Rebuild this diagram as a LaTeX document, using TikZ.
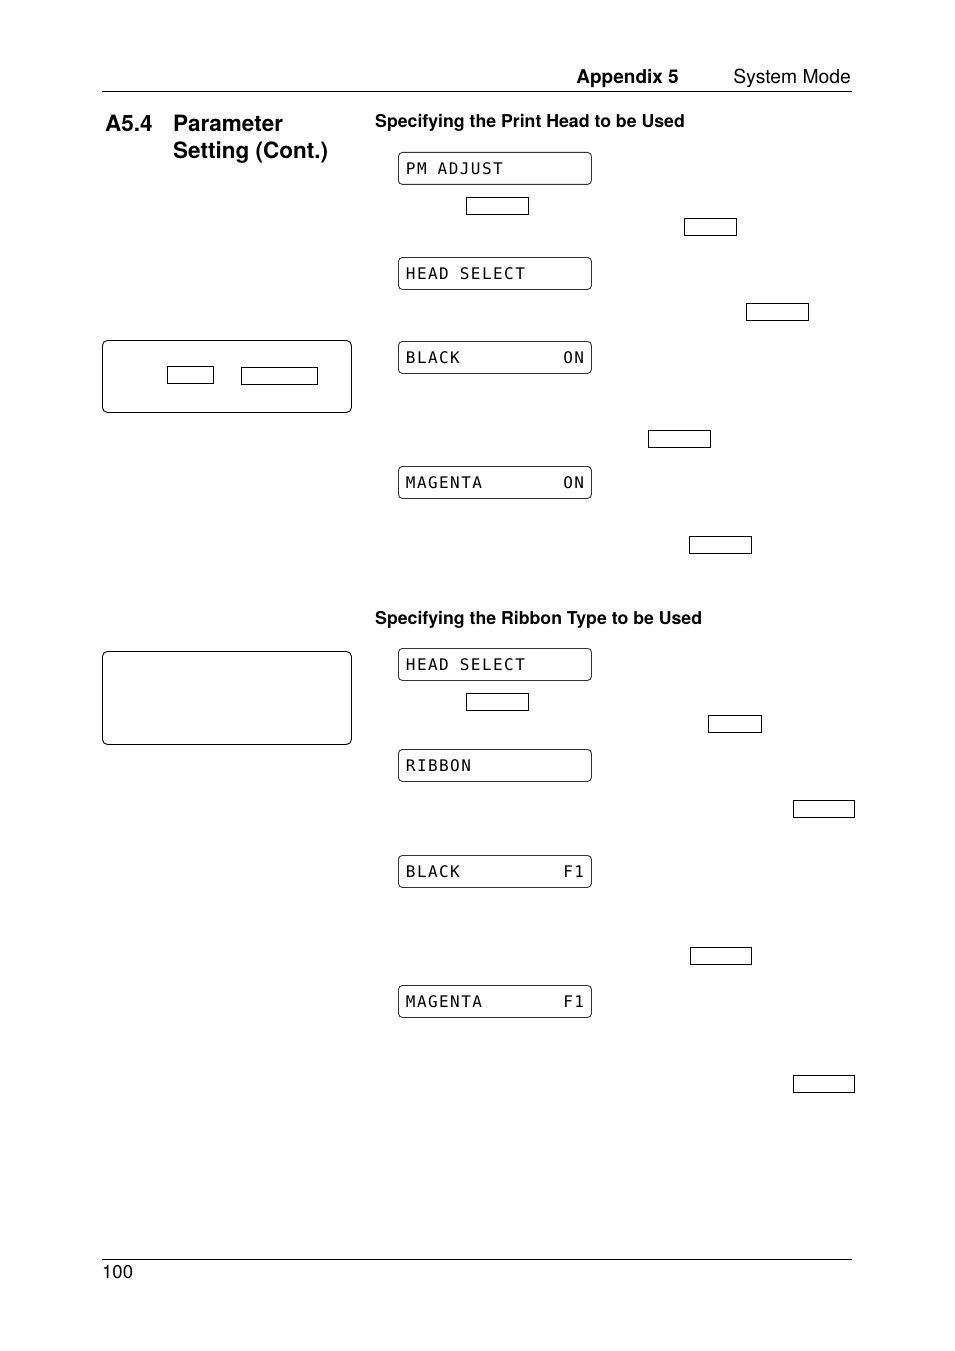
\documentclass[tikz,border=0pt]{standalone}
\usepackage{fontspec}
\setmainfont{TeX Gyre Heros}
\newfontfamily\lcdfont{DejaVu Sans Mono}[LetterSpace=9]
\newcommand\lcdgap{\hspace*{11.1pt}}
\tikzset{
  lcd/.style={draw=black!80, line width=0.9pt, rounded corners=4pt, anchor=north west,
    minimum height=32pt, minimum width=193pt, text width=178pt, inner xsep=7pt, inner ysep=0pt, align=left,
    font=\lcdfont\fontsize{16}{16}\selectfont},
  keybox/.style={draw, line width=0.8pt, anchor=north west, inner sep=0pt, minimum height=17pt},
  panel/.style={draw, line width=0.9pt, rounded corners=5pt, anchor=north west, inner sep=0pt, minimum width=249pt},
  subhead/.style={anchor=base west, inner sep=0pt, font=\bfseries\fontsize{17.7}{21}\selectfont},
  title/.style={anchor=base west, inner sep=0pt, font=\bfseries\fontsize{22.5}{27}\selectfont},
}
\begin{document}
\begin{tikzpicture}[x=1pt,y=-1pt]
	\fill[white] (0,0) rectangle (954,1351);
	\useasboundingbox (0,0) rectangle (954,1351);
	% page header
	\node[anchor=base east, inner sep=0pt, font=\bfseries\fontsize{19}{22}\selectfont] (appendix) at (679,84) {Appendix 5};
	\node[anchor=base east, inner sep=0pt, font=\fontsize{19.3}{22}\selectfont] (sysmode) at (851,84) {System Mode};
	\draw[line width=0.9pt] (102,91) -- (852,91);
	% section title
	\node[title] (secnum) at (105,132) {A5.4};
	\node[title] (title1) at (173,132) {Parameter};
	\node[title] (title2) at (173,159) {Setting (Cont.)};
	% print head
	\node[subhead] (headsub) at (375,128) {Specifying the Print Head to be Used};
	\node[lcd] (pmadj) at (398,152) {PM\lcdgap ADJUST};
	\node[keybox, minimum width=62pt] (k1) at (466,197) {};
	\node[keybox, minimum width=52pt] (k2) at (684,218) {};
	\node[lcd] (headsel) at (398,257) {HEAD\lcdgap SELECT};
	\node[keybox, minimum width=62pt] (k3) at (746,303) {};
	\node[lcd] (blackon) at (398,341) {BLACK\hfill ON};
	\node[keybox, minimum width=62pt] (k4) at (648,430) {};
	\node[lcd] (magon) at (398,466) {MAGENTA\hfill ON};
	\node[keybox, minimum width=62pt] (k5) at (689,536) {};
	\node[panel, minimum height=72pt] (note1) at (102,340) {};
	\node[keybox, minimum width=46pt] (n1a) at (167,366) {};
	\node[keybox, minimum width=76pt] (n1b) at (241,367) {};
	% ribbon type
	\node[subhead] (ribsub) at (375,624) {Specifying the Ribbon Type to be Used};
	\node[lcd] (headsel2) at (398,648) {HEAD\lcdgap SELECT};
	\node[keybox, minimum width=62pt] (k6) at (466,693) {};
	\node[keybox, minimum width=53pt] (k7) at (708,715) {};
	\node[lcd] (ribbon) at (398,749) {RIBBON};
	\node[keybox, minimum width=61pt] (k8) at (793,800) {};
	\node[lcd] (blackf) at (398,855) {BLACK\hfill F1};
	\node[keybox, minimum width=61pt] (k9) at (690,947) {};
	\node[lcd] (magf) at (398,985) {MAGENTA\hfill F1};
	\node[keybox, minimum width=61pt] (k10) at (793,1075) {};
	\node[panel, minimum height=93pt] (note2) at (102,651) {};
	% page footer
	\draw[line width=0.9pt] (102,1259) -- (852,1259);
	\node[anchor=base west, inner sep=0pt, font=\fontsize{18.5}{22}\selectfont] (pageno) at (102,1278) {100};
\end{tikzpicture}
\end{document}
